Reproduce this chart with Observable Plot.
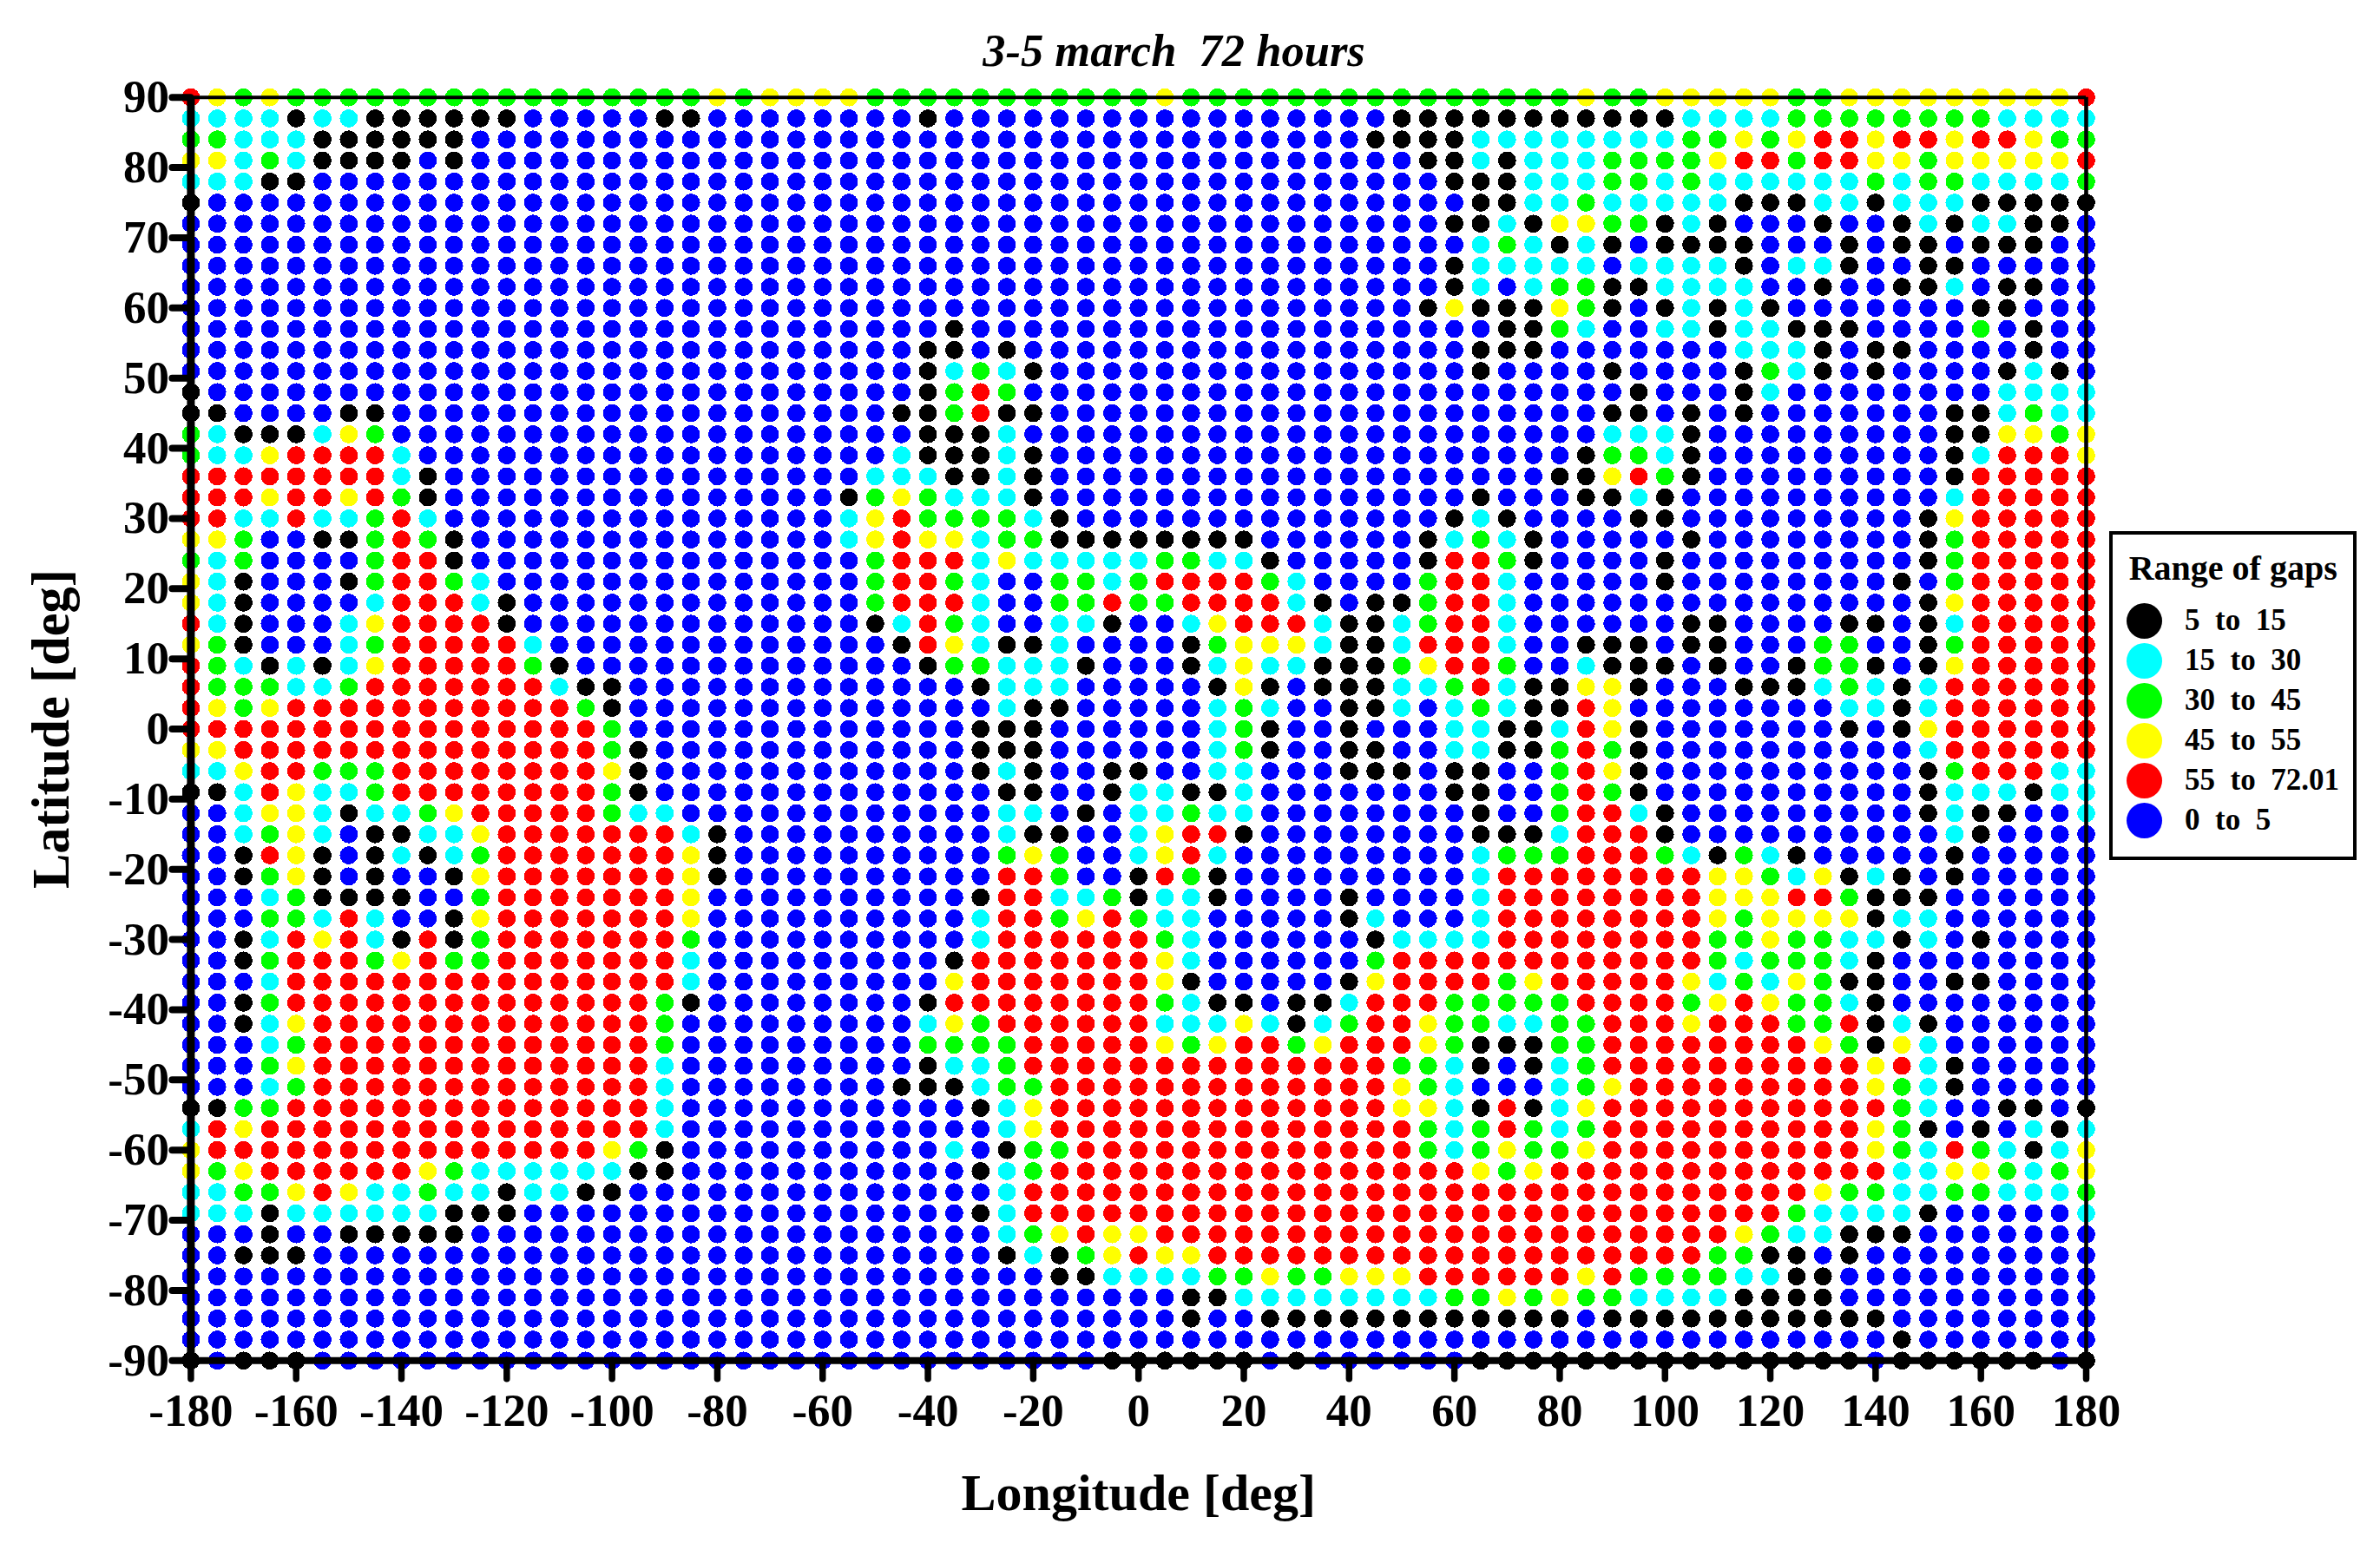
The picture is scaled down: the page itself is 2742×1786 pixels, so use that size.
<!DOCTYPE html>
<html>
<head>
<meta charset="utf-8">
<script src="https://cdn.jsdelivr.net/npm/d3@7"></script>
<script src="https://cdn.jsdelivr.net/npm/@observablehq/plot@0.6"></script>
<style>
  html, body { margin: 0; padding: 0; background: #fff; overflow: hidden; }
  #page { position: relative; width: 2742px; height: 1786px; font-family: "Liberation Serif", serif; font-weight: bold; color: #000; }
  #page svg { display: block; position: absolute; left: 0; top: 0; }
  #title { position: absolute; left: 0; width: 2705px; top: 28px; text-align: center; font-style: italic; font-size: 52.5px; line-height: 60px; white-space: pre; }
  #legend { position: absolute; left: 2430px; top: 612px; width: 285px; height: 379px; box-sizing: border-box; border: 4px solid #000; background: #fff; }
  #legend .head { position: absolute; left: 18.7px; top: 16.5px; font-size: 40px; line-height: 44px; white-space: pre; }
  #legend .row { position: absolute; left: 0; height: 46px; width: 100%; }
  #legend .swatch { position: absolute; left: 15.5px; top: 2.5px; width: 41px; height: 41px; border-radius: 50%; }
  #legend .label { position: absolute; left: 83px; top: 0; font-size: 35px; line-height: 46px; white-space: pre; }
</style>
</head>
<body>
<div id="page">
  <div id="title"></div>
  <div id="legend"></div>
</div>
<script>
// One row per latitude (90 to -90, step 3), one letter per longitude
// (-180 to 180, step 5). "12r" means twelve r in a row.
const titleText = "3-5 march  72 hours";
const legendTitle = "Range of gaps";
const xLabel = "Longitude [deg]";
const yLabel = "Latitude [deg]";
const lonTicks = [-180,-160,-140,-120,-100,-80,-60,-40,-20,0,20,40,60,80,100,120,140,160,180];
const latTicks = [-90,-80,-70,-60,-50,-40,-30,-20,-10,0,10,20,30,40,50,60,70,80,90];
const classCodes = ["k","c","g","y","r","b"];
const classLabels = ["5  to  15","15  to  30","30  to  45","45  to  55","55  to  72.01","0  to  5"];
const classColors = ["#000000","#00ffff","#00ff00","#ffff00","#ff0000","#0000ff"];

const westRows = [
"rygy16gygyyy","cccckcc6k5bkk5b","ggccc6k14b","yycgckkkkbk14b","ccckk20b","k24b",
"25b","25b","25b","25b","25b","25b","25b","25b",
"k24b","kkbbbbkk17b","gckkkcyg17b","gccyrrrrc16b","8rck15b","rrryrryrgk15b","rrccrccgrc15b",
"yygbbkkgrgk14b","gcgbbbbgrrk14b","yckbbbkgrrgc13b","yckbbbbcrrrck12b","rckbbbcyrrrrk12b","ygkbbbcgrrrrrc11b",
"rgckckcyrrrrrgk10b","rgggccg7rckk8b","rygy11rgk8b","16rg8b","yy14rgk7b","ccyrrggg8ryk7b","kkcryccg8rgk7b",
"bbcyyckccgy5rgcc6b","bbcgycbkkccy7rck4b","bbkrykbkckcg7ryk4b","bbkgykbkbbky7ryk4b","bbbcgkkkkbbg7ry5b",
"bbbggcrcbbky7ry5b","bbkcryrckrkg7rg5b","bbkgrrrgyrgg7rc5b",
"bbbc15rc5b","bbkg14rgk5b","bbkcy13rg6b","bbbcg13rg6b","bbbgy13rc6b","bbbcg13rc6b","kkgg14rc6b","cry15rc6b",
"y15rygk6b","ygy6ryg6ckk6b","ccggyryccgcckcckk8b","ccck6ckkk12b","bbbkbb5k14b","bbkkk20b",
"25b","25b","25b","25b","kbkkk20b"
];
const midRows = [
"y11gy12g","bbbk17bkkkk","20bkkkkc","22bkkc","23bkk","24bk","23bkk","24bc","23bkc","23bkc","22bkyk",
"bbbbk20b","bbbkkbk17bk","bbbkcgck16bk","bbbkgrg18b","bbkkgrkk17b","bbbkkkc18b","bbckkkck17b","bccckkck17b",
"kgygccck16bk","cyrggggck14bkc",
"cyryycgg8k6bkcg","bgrrrcy5cggcck5bkrr","bgrrgcbbggcgrrrrgc4bgrr","bgrrrcbbggrggrrrrckbkkgrr","bkcrgcbbcckbbcyrrrckkcgrr",
"bbkryckkc4bkgyyyckkcrrr","bbbkggccckbbbkcycckkkgyrr","5bkccc5bkykbkkkccgr","6bckk5bcgcbbkkcbcg","5bkkk6bcgkbbkbbbcc",
"5bkkk6bcgkbbkkbbcc","5bkckbbkkbbccbbbkkkbkk","6bkkbbkcckkc7bkk","6bccbkbccgcc8bk","6bckkbbcyrrk8bk","6bgygbbcyrc9bc",
"6brrgbbkrgk9bc","5bkrrccgkcck4bk4bc","5bcrrgyrgcc5bkcbbbc","5bc6rgc6bkcccc","4bk7ryc6bgrrrr",
"4by7ryk5bkyrrrr","bbbk8rgckkbkkcrrrgg","bbbcyg6rcccyckcgrrygg","bbbgggg5rygyrrgyrrrygk","bbbkccg14rggck","bbkkkcgg13rygcb",
"5bkcy13ryyck","6bcy14rgcg","bbbbcbkgg13rgcg","5bkcg16ry","6bc18r","5bkc18r","6bcgyryy13r","6bkckgyryy11r",
"8bkkccccggyggyyyrrr","13bkk8cgg","13bkbb9k","25b","10b6kbk6bk"
];
const eastRows = [
"gggyggyyyyygg9yr","7k4c8g4c","7cggygyrryrryrrygg","kcccggggyrrgrryygyyyyyr","kcccggcg6cgcgg4cg","kccgccccckkkcckccckkkkk",
"ckyyggkckbbbkbbkckcckkb","gckckbkkkkbbbkbkkbkkkbb","ccccbcccckbcckbbkkbbbbb","bcggkkccccbbkbbkkcbkkbb","kkygkbkckck7bkkbbb",
"kkgcbbcckcckkkbbbbgbkbb","kkbbbbbbbccckbkkbbbbkbb","bbbbkbbbbkgckbkbbbbkckb","bbbbbkbbbkc8bcccc","bbbbkkbkbk7bkkcgcc",
"bbbbccck9bkkyygy","bbbkggck9bkcrrry","bbkkyrgk9bk5r","bbbkkck10bc5r","kbbbbkk9bky5r",
"ck5bk8bkg5r","gkbbbbk9bkg5r","c5bk8bkbg5r","c15bky5r","c6bkkbbbbkkbkc5r","cbbkkkbkkbbbggbbkg5r","gbbckkkbkbbkggkbky5r",
"ckkyykbbbkkkcgckc6r","ckkry8bcckc6r","kkcryk7bkbky6r","kkgrgk10bc6r","bbgryk10bkg3rcc","bbgrgk10bkccckcc","bbgrrck9bkckkbbc",
"kkcrrrk10bck4b","gggrrrgckgck5bk5b","8ryygcykckbk5b","8ryyyrrgkkk6b","8rygyyyykcc6b","8rggyggcckcbk4b","8rgcgggck8b",
"gy5rycgcygkkbbkkbbbb","gggrrrrgyryggck8b","ccggrrryrrrggrkck6b","kkgg8rygkyc6b","bkcg10ryrck5b","bbcgy9rygck5b",
"rkcy11rgcbbkkbk","rgcg10rygkbkbckc","yggy10rygcrgckcy","gy13rccyygcgy","12ryggccggcccg","11rgcccck5bc","9rygcckkk7b",
"8rggkkbk9b","rrryrggggcckk10b","ygyggcccckkkk10b","kkkb11k8b","15bk7b","14kb6kbk"
];

const expand = s => s.replace(/(\d+)([a-z])/g, (_, n, ch) => ch.repeat(+n));
const gapOf = Object.fromEntries(classCodes.map((c, i) => [c, classLabels[i]]));
const points = [];
westRows.forEach((w, r) => {
  const row = expand(w) + expand(midRows[r]) + expand(eastRows[r]);
  if (row.length !== 73) throw new Error("row " + r + " has " + row.length + " cells");
  [...row].forEach((ch, c) => points.push({lon: -180 + 5 * c, lat: 90 - 3 * r, gap: gapOf[ch]}));
});

const fontFamily = "Liberation Serif";
const chart = Plot.plot({
  width: 2742,
  height: 1786,
  marginLeft: 219.4,
  marginRight: 339,
  marginTop: 111.7,
  marginBottom: 218.7,
  style: {fontFamily, background: "transparent"},
  x: {domain: [-180, 180]},
  y: {domain: [-90, 90]},
  color: {type: "ordinal", domain: classLabels, range: classColors},
  marks: [
    Plot.dot(points, {x: "lon", y: "lat", fill: "gap", r: 10.4, stroke: null, shapeRendering: "crispEdges"}),
    Plot.ruleX([-180], {stroke: "#000", strokeWidth: 9}),
    Plot.ruleX([180], {stroke: "#000", strokeWidth: 4.6}),
    Plot.ruleY([90], {stroke: "#000", strokeWidth: 4}),
    Plot.ruleY([-90], {stroke: "#000", strokeWidth: 8}),
    Plot.axisX(lonTicks, {
      anchor: "bottom", tickSize: 21.5, tickPadding: 16.4, strokeWidth: 7.5, stroke: "#000", strokeLinecap: "round",
      tickFormat: d => String(d), label: null,
      fontFamily, fontSize: 53, fontWeight: "bold", fill: "#000"
    }),
    Plot.axisY(latTicks, {
      anchor: "left", tickSize: 21, tickPadding: 4, strokeWidth: 8, stroke: "#000", strokeLinecap: "round",
      tickFormat: d => String(d), label: null,
      fontFamily, fontSize: 53, fontWeight: "bold", fill: "#000"
    }),
    Plot.text([xLabel], {
      frameAnchor: "bottom", dy: 153, text: d => d, lineAnchor: "middle",
      fontFamily, fontSize: 60, fontWeight: "bold", fill: "#000"
    }),
    Plot.text([yLabel], {
      frameAnchor: "left", dx: -160, rotate: -90, text: d => d, lineAnchor: "middle", textAnchor: "middle",
      fontFamily, fontSize: 60.5, fontWeight: "bold", fill: "#000"
    })
  ]
});
const page = document.getElementById("page");
page.insertBefore(chart, page.firstChild);
document.getElementById("title").textContent = titleText;

const legend = document.getElementById("legend");
const head = document.createElement("div");
head.className = "head";
head.textContent = legendTitle;
legend.appendChild(head);
classLabels.forEach((label, i) => {
  const row = document.createElement("div");
  row.className = "row";
  row.style.top = (76 + 46 * i) + "px";
  const swatch = document.createElement("div");
  swatch.className = "swatch";
  swatch.style.background = classColors[i];
  const text = document.createElement("div");
  text.className = "label";
  text.textContent = label;
  row.append(swatch, text);
  legend.appendChild(row);
});
</script>
</body>
</html>
